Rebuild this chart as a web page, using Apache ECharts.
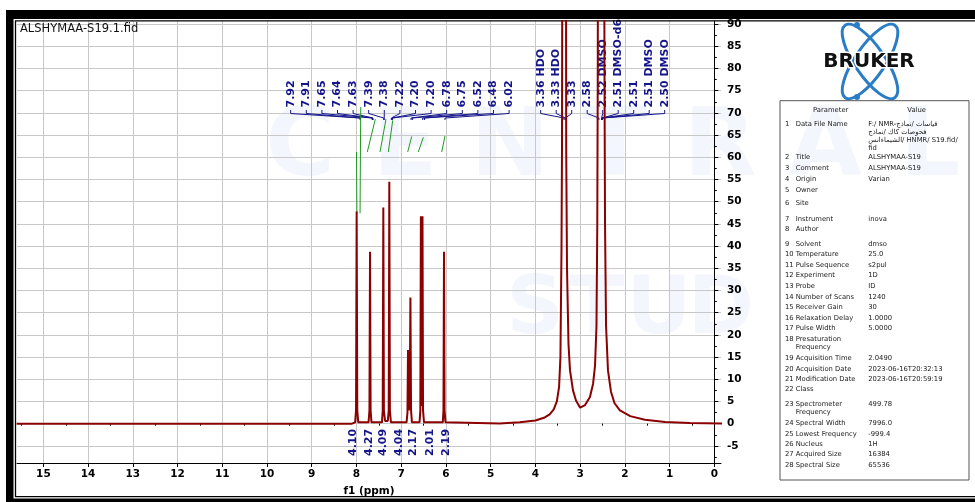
<!DOCTYPE html>
<html>
<head>
<meta charset="utf-8">
<script src="https://cdn.jsdelivr.net/npm/echarts@6/dist/echarts.min.js"></script>
<style>
html, body { margin: 0; padding: 0; background: #fff; }
#main { width: 975px; height: 502px; }
</style>
</head>
<body>
<div id="main"></div>
<script>
// 1H spectrum, [ppm, intensity]
var spectrum = [
    [15.6, 0], [8.1, 0],
    [8.03, 0.3], [8.01, 3], [7.996, 47.8], [7.982, 3], [7.96, 0.3],
    [7.73, 0.3], [7.71, 3], [7.697, 38.7], [7.684, 3], [7.665, 0.3],
    [7.43, 0.3], [7.413, 3], [7.400, 48.7], [7.387, 3], [7.36, 0.6],
    [7.30, 0.6], [7.279, 3], [7.266, 54.5], [7.253, 3], [7.23, 0.3],
    [6.88, 0.3], [6.86, 2.5], [6.848, 16.6], [6.83, 3], [6.81, 4], [6.794, 28.4], [6.78, 3], [6.76, 0.3],
    [6.59, 0.3], [6.572, 3], [6.560, 46.7], [6.548, 4], [6.536, 5], [6.524, 46.7], [6.512, 3], [6.49, 0.3],
    [6.07, 0.3], [6.055, 3], [6.043, 38.7], [6.031, 3], [6.01, 0.3],
    [4.8, 0.05], [4.35, 0.3], [4.0, 0.7], [3.79, 1.4], [3.68, 2.1], [3.59, 3.2], [3.52, 5], [3.47, 8.3],
    [3.44, 15], [3.416, 39.6], [3.405, 62], [3.39, 150], [3.36, 300], [3.345, 250], [3.33, 300], [3.315, 100],
    [3.311, 62], [3.293, 35], [3.26, 18], [3.226, 12], [3.159, 7.5], [3.092, 5.2], [3.0, 3.6], [2.89, 4.2],
    [2.78, 6], [2.71, 9], [2.667, 13], [2.634, 22], [2.616, 45], [2.605, 80], [2.59, 200], [2.55, 400],
    [2.52, 500], [2.50, 400], [2.47, 150], [2.455, 80], [2.443, 45], [2.42, 22], [2.377, 12], [2.31, 7.2],
    [2.23, 4.6], [2.11, 3], [1.88, 1.7], [1.55, 0.9], [1.10, 0.4], [0.545, 0.15], [-0.2, 0.05]
];

// integral traces (green)
var integralCurves = [
    [[7.905, 71.3], [7.92, 47.4]],
    [[8.0, 61.2], [7.99, 47.4]],
    [[7.758, 61.2], [7.579, 68.6]],
    [[7.474, 61.2], [7.340, 68.6]],
    [[7.288, 61.2], [7.190, 68.3]],
    [[6.855, 61.2], [6.765, 64.7]],
    [[6.618, 61.2], [6.506, 64.5]],
    [[6.094, 61.2], [6.021, 64.8]]
];
var integralValues = ['4.10', '4.27', '4.09', '4.04', '2.17', '2.01', '2.19'];

var peakLabels = ['7.92', '7.91', '7.65', '7.64', '7.63', '7.39', '7.38', '7.22', '7.20', '7.20', '6.78', '6.75', '6.52', '6.48', '6.02'];
var solventLabels = ['3.36 HDO', '3.33 HDO', '3.33', '2.58', '2.52 DMSO', '2.51 DMSO-d6', '2.51', '2.51 DMSO', '2.50 DMSO'];

var xTicks = [0, 1, 2, 3, 4, 5, 6, 7, 8, 9, 10, 11, 12, 13, 14, 15];
var xMinor = [0.5, 1.5, 2.5, 3.5, 4.5, 5.5, 6.5, 7.5, 8.5, 9.5, 10.5, 11.5, 12.5, 13.5, 14.5, 15.5];
var yTicks = [-5, 0, 5, 10, 15, 20, 25, 30, 35, 40, 45, 50, 55, 60, 65, 70, 75, 80, 85, 90];
var yMinor = [-7.5, -2.5, 2.5, 7.5, 12.5, 17.5, 22.5, 27.5, 32.5, 37.5, 42.5, 47.5, 52.5, 57.5, 62.5, 67.5, 72.5, 77.5, 82.5, 87.5];

var paramNames = ['Data File Name', 'Title', 'Comment', 'Origin', 'Owner', 'Site', 'Instrument', 'Author',
    'Solvent', 'Temperature', 'Pulse Sequence', 'Experiment', 'Probe', 'Number of Scans', 'Receiver Gain',
    'Relaxation Delay', 'Pulse Width', 'Presaturation\nFrequency', 'Acquisition Time', 'Acquisition Date',
    'Modification Date', 'Class', 'Spectrometer\nFrequency', 'Spectral Width', 'Lowest Frequency', 'Nucleus',
    'Acquired Size', 'Spectral Size'];
var paramValues = ['F:/ NMR-قياسات /نماذج\nفحوصات كاك /نماذج\nالشيماءانس/ HNMR/ S19.fid/\nfid',
    'ALSHYMAA-S19', 'ALSHYMAA-S19', 'Varian', '', '', 'inova', '', 'dmso', '25.0', 's2pul', '1D', 'ID',
    '1240', '30', '1.0000', '5.0000', '', '2.0490', '2023-06-16T20:32:13', '2023-06-16T20:59:19', '',
    '499.78', '7996.0', '-999.4', '1H', '16384', '65536'];

// faint watermark letters behind the plot
var watermarkTop = ['C', 'E', 'N', 'T', 'R', 'A', 'L'];
var watermarkBottom = ['S', 'T', 'U', 'D'];

// layout (pixels)
var rowY = [124.3, 157.3, 168.3, 179.3, 190, 203.3, 219, 229.3, 244, 254.3, 265, 275.7, 286.3, 297,
    307.7, 318.3, 328.7, 339.3, 358, 369, 379.3, 389.7, 404.3, 423.7, 434, 444.3, 454.7, 465.3];
var integralLabelX = [353.3, 369.3, 383.3, 399.3, 413.3, 430, 446];

var navy = '#15158a';
var axisFont = 'DejaVu Sans';

var chart = echarts.init(document.getElementById('main'));

var series = [{
    type: 'line',
    data: spectrum,
    showSymbol: false,
    silent: true,
    z: 5,
    lineStyle: { color: '#8b0000', width: 2 }
}];
integralCurves.forEach(function (seg) {
    series.push({
        type: 'line',
        data: seg,
        showSymbol: false,
        silent: true,
        z: 4,
        lineStyle: { color: '#1f9a1f', width: 1 }
    });
});

var option = {
    animation: false,
    backgroundColor: '#fff',
    grid: { left: 17, right: 254, top: 21, bottom: 35 },
    xAxis: [{
        type: 'value',
        inverse: true,
        min: -0.15,
        max: 15.59,
        position: 'bottom',
        name: 'f1 (ppm)',
        nameLocation: 'middle',
        nameGap: 23,
        nameTextStyle: { color: '#000', fontWeight: 'bold', fontSize: 10.5, fontFamily: axisFont },
        axisLine: { show: true, onZero: false, lineStyle: { color: '#000', width: 1 } },
        axisTick: { show: true, customValues: xTicks, length: 4, lineStyle: { color: '#000' } },
        axisLabel: { customValues: xTicks, margin: 6, color: '#000', fontWeight: 'bold', fontSize: 10.5, fontFamily: axisFont },
        splitLine: { show: true, lineStyle: { color: '#c8c8c8', width: 1 } }
    }, {
        type: 'value',
        inverse: true,
        min: -0.15,
        max: 15.59,
        position: 'bottom',
        axisLine: { show: false },
        axisTick: { show: true, customValues: xMinor, length: 2, lineStyle: { color: '#000' } },
        axisLabel: { show: false },
        splitLine: { show: false }
    }],
    yAxis: [{
        type: 'value',
        position: 'right',
        min: -8.86,
        max: 90.7,
        axisLine: { show: true, lineStyle: { color: '#000', width: 1 } },
        axisTick: { show: true, customValues: yTicks, length: 4, lineStyle: { color: '#000' } },
        axisLabel: { customValues: yTicks, margin: 6, color: '#000', fontWeight: 'bold', fontSize: 10.5, fontFamily: axisFont },
        splitLine: { show: true, lineStyle: { color: '#c8c8c8', width: 1 } }
    }, {
        type: 'value',
        position: 'right',
        min: -8.86,
        max: 90.7,
        axisLine: { show: false },
        axisTick: { show: true, customValues: yMinor, length: 2.5, lineStyle: { color: '#000' } },
        axisLabel: { show: false },
        splitLine: { show: false }
    }],
    series: series
};
chart.setOption(option);

function px(ppm) { return chart.convertToPixel({ xAxisIndex: 0 }, ppm); }

var els = [];

// watermark, kept very pale
watermarkTop.forEach(function (c, i) {
    els.push({ type: 'text', x: 300 + i * 105, y: 150, z: -10,
        style: { text: c, fill: 'rgba(120,155,230,0.09)', font: 'bold 95px "DejaVu Sans"', align: 'center', verticalAlign: 'middle' } });
});
watermarkBottom.forEach(function (c, i) {
    els.push({ type: 'text', x: 535 + i * 62, y: 312, z: -10,
        style: { text: c, fill: 'rgba(120,155,230,0.09)', font: 'bold 80px "DejaVu Sans"', align: 'center', verticalAlign: 'middle' } });
});

els.push({ type: 'text', x: 20, y: 29.5, style: { text: 'ALSHYMAA-S19.1.fid', fill: '#111', font: '11.5px "DejaVu Sans"', align: 'left', verticalAlign: 'middle' } });

// peak labels with connectors
function peakGroup(labels, x0, step) {
    labels.forEach(function (t, i) {
        var lx = x0 + i * step;
        var p = px(parseFloat(t));
        els.push({ type: 'text', x: lx, y: 107.5, rotation: Math.PI / 2,
            style: { text: t, fill: navy, font: 'bold 11px "DejaVu Sans"', align: 'left', verticalAlign: 'middle' } });
        els.push({ type: 'polyline', shape: { points: [[lx, 110], [lx, 113.5], [p, 118], [p, 120]] },
            style: { stroke: navy, fill: null, lineWidth: 1 } });
    });
}
peakGroup(peakLabels, 290.7, 15.6);
peakGroup(solventLabels, 540.7, 15.5);

// integral values
integralValues.forEach(function (t, i) {
    els.push({ type: 'text', x: integralLabelX[i], y: 456, rotation: Math.PI / 2,
        style: { text: t, fill: navy, font: 'bold 11px "DejaVu Sans"', align: 'left', verticalAlign: 'middle' } });
});

// logo
[0.6, -0.6].forEach(function (r) {
    els.push({ type: 'ellipse', x: 870, y: 61.5, rotation: r, shape: { cx: 0, cy: 0, rx: 15, ry: 44 },
        style: { stroke: '#2a7cc4', fill: null, lineWidth: 3 } });
});
els.push({ type: 'circle', shape: { cx: 857, cy: 25, r: 3 }, style: { fill: '#2a7cc4' } });
els.push({ type: 'circle', shape: { cx: 857, cy: 97, r: 3 }, style: { fill: '#2a7cc4' } });
els.push({ type: 'text', x: 869, y: 62, style: { text: 'BRUKER', fill: '#111', stroke: '#fff', lineWidth: 3,
    font: 'bold 20px "DejaVu Sans"', align: 'center', verticalAlign: 'middle' } });

// parameter table
var tFont = '6.8px "DejaVu Sans"';
els.push({ type: 'rect', shape: { x: 780, y: 100.7, width: 189, height: 379.3 }, style: { fill: null, stroke: '#555', lineWidth: 1 } });
els.push({ type: 'text', x: 830.7, y: 110, style: { text: 'Parameter', fill: '#222', font: tFont, align: 'center', verticalAlign: 'middle' } });
els.push({ type: 'text', x: 916.7, y: 110, style: { text: 'Value', fill: '#222', font: tFont, align: 'center', verticalAlign: 'middle' } });
paramNames.forEach(function (n, i) {
    var y = rowY[i] - 4;
    els.push({ type: 'text', x: 785, y: y, style: { text: String(i + 1), fill: '#222', font: tFont, align: 'left', verticalAlign: 'top', lineHeight: 8 } });
    els.push({ type: 'text', x: 795.7, y: y, style: { text: n, fill: '#222', font: tFont, align: 'left', verticalAlign: 'top', lineHeight: 8 } });
    if (paramValues[i]) {
        els.push({ type: 'text', x: 868.3, y: y, style: { text: paramValues[i], fill: '#222', font: tFont, align: 'left', verticalAlign: 'top', lineHeight: 8 } });
    }
});

// frame, drawn last so it covers anything running past the top
els.push({ type: 'rect', shape: { x: 6, y: 10, width: 969, height: 9 }, style: { fill: '#000' } });
els.push({ type: 'rect', shape: { x: 6, y: 10, width: 7.5, height: 492 }, style: { fill: '#000' } });
els.push({ type: 'rect', shape: { x: 6, y: 498.6, width: 969, height: 3.4 }, style: { fill: '#000' } });
els.push({ type: 'line', shape: { x1: 15, y1: 20.8, x2: 975, y2: 20.8 }, style: { stroke: '#000', lineWidth: 1.3 } });
els.push({ type: 'line', shape: { x1: 15.5, y1: 20.8, x2: 15.5, y2: 497 }, style: { stroke: '#000', lineWidth: 1.3 } });
els.push({ type: 'line', shape: { x1: 15, y1: 496.6, x2: 975, y2: 496.6 }, style: { stroke: '#000', lineWidth: 1.3 } });

chart.setOption({ graphic: { elements: els } });
</script>
</body>
</html>
